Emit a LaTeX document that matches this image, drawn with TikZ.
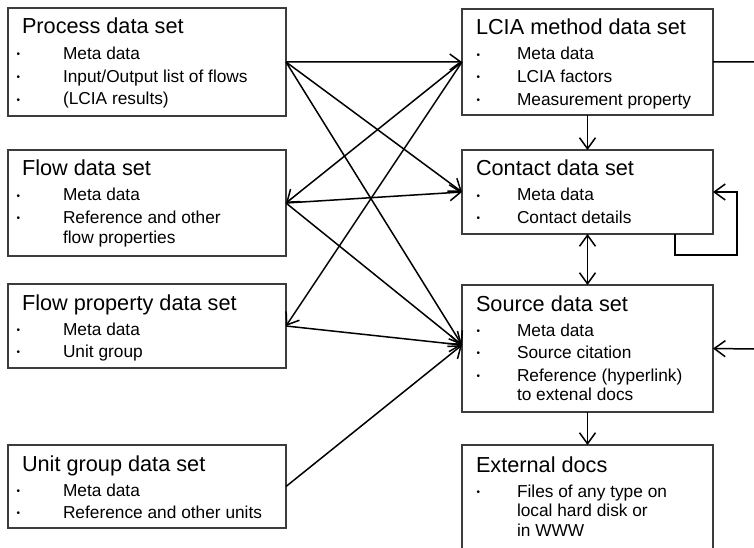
\documentclass[tikz,border=0pt]{standalone}
\usepackage{fontspec}
\setmainfont{Liberation Sans}
\usetikzlibrary{arrows.meta}

% text helpers for the data set boxes
\newlength\bulx
\newcommand\titlefont{\fontsize{21.7bp}{26bp}\selectfont}
\newcommand\itemfont{\fontsize{17.3bp}{19bp}\selectfont}
\newcommand\bulletmark{\raisebox{1.8bp}{\fontsize{10bp}{10bp}\selectfont\textbullet}}
\newcommand\dsT[1]{\hbox{\hskip14bp\smash{\titlefont #1}}}
\newcommand\dsI[2][22.7bp]{\vskip#1\hbox{\hbox to 55bp{\hskip\bulx\smash{\bulletmark}\hss}\smash{\itemfont #2}}}
\newcommand\dsC[1]{\vskip19.5bp\hbox{\hskip55bp\smash{\itemfont #1}}}
\newcommand\dsBody[2][8.5bp]{\vtop{\offinterlineskip\bulx=#1\relax #2}}

\definecolor{boxgray}{RGB}{60,60,60}

\tikzset{
  dsbox/.style={draw=boxgray, line width=1.3bp, anchor=north west, inner sep=0pt, outer sep=0pt, fill=white},
  dstext/.style={anchor=base west, inner sep=0pt, outer sep=0pt},
  arr/.style={line width=1.5bp, -{Straight Barb[length=11bp,width=16bp]}},
  arrboth/.style={line width=1.5bp, {Straight Barb[length=11bp,width=16bp]}-{Straight Barb[length=11bp,width=16bp]}},
  plain/.style={line width=1.5bp}
}

\begin{document}
\begin{tikzpicture}[x=1bp, y=-1bp]
\useasboundingbox (0,0) rectangle (754,548);
\fill[white] (0,0) rectangle (754,548);
\clip (0,0) rectangle (754,548);

% left column
\node[dsbox, minimum width=278bp, minimum height=108bp] (proc) at (8,8) {};
\node[dsbox, minimum width=278bp, minimum height=106bp] (flow) at (8,150) {};
\node[dsbox, minimum width=278bp, minimum height=84bp] (fprop) at (8,284) {};
\node[dsbox, minimum width=278bp, minimum height=83bp] (ug) at (8,445) {};

% right column
\node[dsbox, minimum width=251bp, minimum height=106bp] (lcia) at (462,9) {};
\node[dsbox, minimum width=251bp, minimum height=84bp] (cnt) at (462,150) {};
\node[dsbox, minimum width=251bp, minimum height=127bp] (src) at (462,285) {};
\node[dsbox, minimum width=251bp, minimum height=130bp] (ext) at (462,445) {};

% box contents
\node[dstext] (procT) at ([yshift=-26bp]proc.north west) {\dsBody{%
  \dsT{Process data set}\dsI[25.5bp]{Meta data}\dsI{Input/Output list of flows}\dsI{(LCIA results)}}};
\node[dstext] (flowT) at ([yshift=-26bp]flow.north west) {\dsBody{%
  \dsT{Flow data set}\dsI[25bp]{Meta data}\dsI{Reference and other}\dsC{flow properties}}};
\node[dstext] (fpropT) at ([yshift=-26bp]fprop.north west) {\dsBody{%
  \dsT{Flow property data set}\dsI[25bp]{Meta data}\dsI{Unit group}}};
\node[dstext] (ugT) at ([yshift=-26bp]ug.north west) {\dsBody{%
  \dsT{Unit group data set}\dsI[25bp]{Meta data}\dsI{Reference and other units}}};

\node[dstext] (lciaT) at ([yshift=-26bp]lcia.north west) {\dsBody[14.5bp]{%
  \dsT{LCIA method data set}\dsI[25bp]{Meta data}\dsI{LCIA factors}\dsI{Measurement property}}};
\node[dstext] (cntT) at ([yshift=-26bp]cnt.north west) {\dsBody[14.5bp]{%
  \dsT{Contact data set}\dsI[25bp]{Meta data}\dsI{Contact details}}};
\node[dstext] (srcT) at ([yshift=-26bp]src.north west) {\dsBody[14.5bp]{%
  \dsT{Source data set}\dsI[25bp]{Meta data}\dsI{Source citation}\dsI{Reference (hyperlink)}\dsC{to extenal docs}}};
\node[dstext] (extT) at ([yshift=-27bp]ext.north west) {\dsBody[14.5bp]{%
  \dsT{External docs}\dsI[25bp]{Files of any type on}\dsC{local hard disk or}\dsC{in WWW}}};

% attachment points
\coordinate (srcW) at ([yshift=3.5bp]src.west);
\coordinate (lciaOut) at (754,62);
\coordinate (srcIn) at (754,349);

% crossing links between the columns
\draw[arr] (proc.east) -- (lcia.west);
\draw[arr] (proc.east) -- (cnt.west);
\draw[arr] (proc.east) -- (srcW);
\draw[arr] (lcia.west) -- (flow.east);
\draw[arr] (flow.east) -- (cnt.west);
\draw[arr] (flow.east) -- (srcW);
\draw[arr] (lcia.west) -- (fprop.east);
\draw[arr] (fprop.east) -- (srcW);
\draw[arr] (ug.east) -- (srcW);

% right column links
\draw[arr] (lcia.south) -- (cnt.north);
\draw[arrboth] (cnt.south) -- (src.north);
\draw[arr] (src.south) -- (ext.north);
\draw[arr] ([xshift=-38bp]cnt.south east) -- ++(0,21) -| ([xshift=24bp]cnt.east) -- (cnt.east);
\draw[plain] (lcia.east) -- (lciaOut);
\draw[arr] (srcIn) -- (src.east);
\end{tikzpicture}
\end{document}
